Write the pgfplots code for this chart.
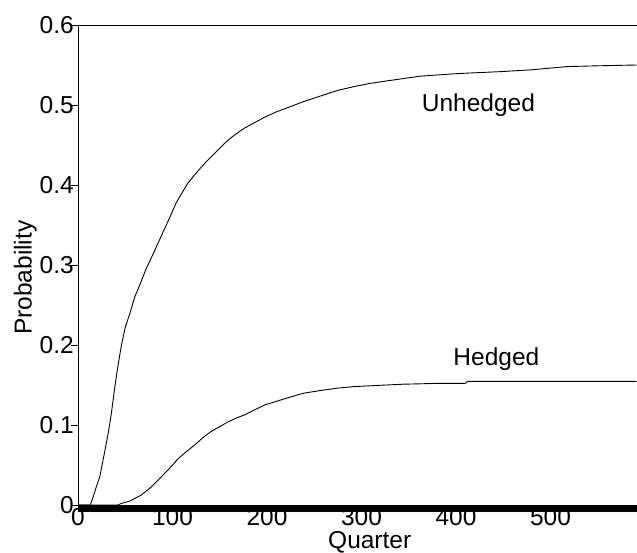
\documentclass[border=0pt]{standalone}
\usepackage{pgfplots}
\pgfplotsset{compat=1.18}
\usepackage{fontspec}
\setmainfont{Liberation Sans}
\newcommand{\lbl}{\fontsize{24.5}{29}\selectfont}
\begin{document}
\begin{tikzpicture}
\path[use as bounding box, clip] (0,0) rectangle (637pt,552pt);
\begin{axis}[
  at={(78pt,47pt)}, anchor=south west,
  scale only axis, width=567pt, height=480pt,
  xmin=0, xmax=600, ymin=0, ymax=0.6,
  xtick={0,100,...,500},
  minor xtick={1,2,...,599},
  ytick={0,0.1,...,0.6},
  xtick pos=left, ytick pos=left,
  tick align=outside,
  major tick length=7pt, minor tick length=7pt,
  every x tick/.style={line width=0.4pt, black},
  every minor x tick/.style={line width=0.33pt, black},
  every y tick/.style={line width=0.8pt, black},
  axis line style={line width=0.9pt},
  /pgf/number format/assume math mode=true,
  /pgf/number format/fixed, /pgf/number format/precision=1,
  every tick label/.append style={font=\lbl, inner sep=0pt},
  xticklabel style={anchor=north, yshift=4pt},
  yticklabel style={anchor=east, xshift=3pt},
  xlabel={Quarter}, ylabel={Probability},
  xlabel style={font=\lbl, inner sep=0pt, at={(axis description cs:0.4409,-0.0915)}, anchor=base west},
  ylabel style={font=\lbl, inner sep=0pt, at={(axis description cs:-0.082,0.354)}, anchor=base west},
]
\addplot[black, line width=0.9pt] coordinates {
(0,0) (13,0) (16,0.010) (20,0.025) (23,0.035) (28,0.065) (32,0.09) (35,0.112)
(39,0.148) (42,0.172) (46,0.200) (50,0.222) (55,0.240) (60,0.260) (66,0.277)
(72,0.295) (80,0.315) (88,0.336) (95,0.354) (104,0.378) (116,0.402) (125,0.415)
(134,0.427) (145,0.440) (155,0.452) (165,0.462) (176,0.471) (187,0.478)
(198,0.485) (211,0.492) (225,0.498) (238,0.504) (256,0.511) (274,0.518)
(292,0.523) (309,0.527) (326,0.530) (344,0.533) (362,0.536) (380,0.5375)
(398,0.539) (415,0.540) (447,0.5417) (480,0.544) (517,0.548) (550,0.549) (591,0.550)
};
\addplot[black, line width=0.9pt] coordinates {
(0,0) (42,0) (46,0.002) (55,0.005) (67,0.0125) (77,0.022) (88,0.035) (97,0.046)
(106,0.058) (115,0.067) (123.5,0.075) (132,0.084) (141,0.092) (150,0.098)
(159,0.104) (168,0.109) (176,0.1125) (187,0.119) (197.5,0.125) (211,0.130)
(225,0.135) (238,0.1396) (256,0.143) (274,0.146) (292,0.148) (309,0.149)
(326,0.150) (344,0.151) (362,0.1515) (380,0.152) (410,0.152) (412,0.1545)
(450,0.1545) (500,0.1545) (550,0.1545) (591,0.1545)
};
\node[font=\lbl, inner sep=0pt, anchor=base west] at (axis cs:363.7,0.4916) {Unhedged};
\node[font=\lbl, inner sep=0pt, anchor=base west] at (axis cs:397.1,0.175) {Hedged};
\end{axis}
\end{tikzpicture}
\end{document}
